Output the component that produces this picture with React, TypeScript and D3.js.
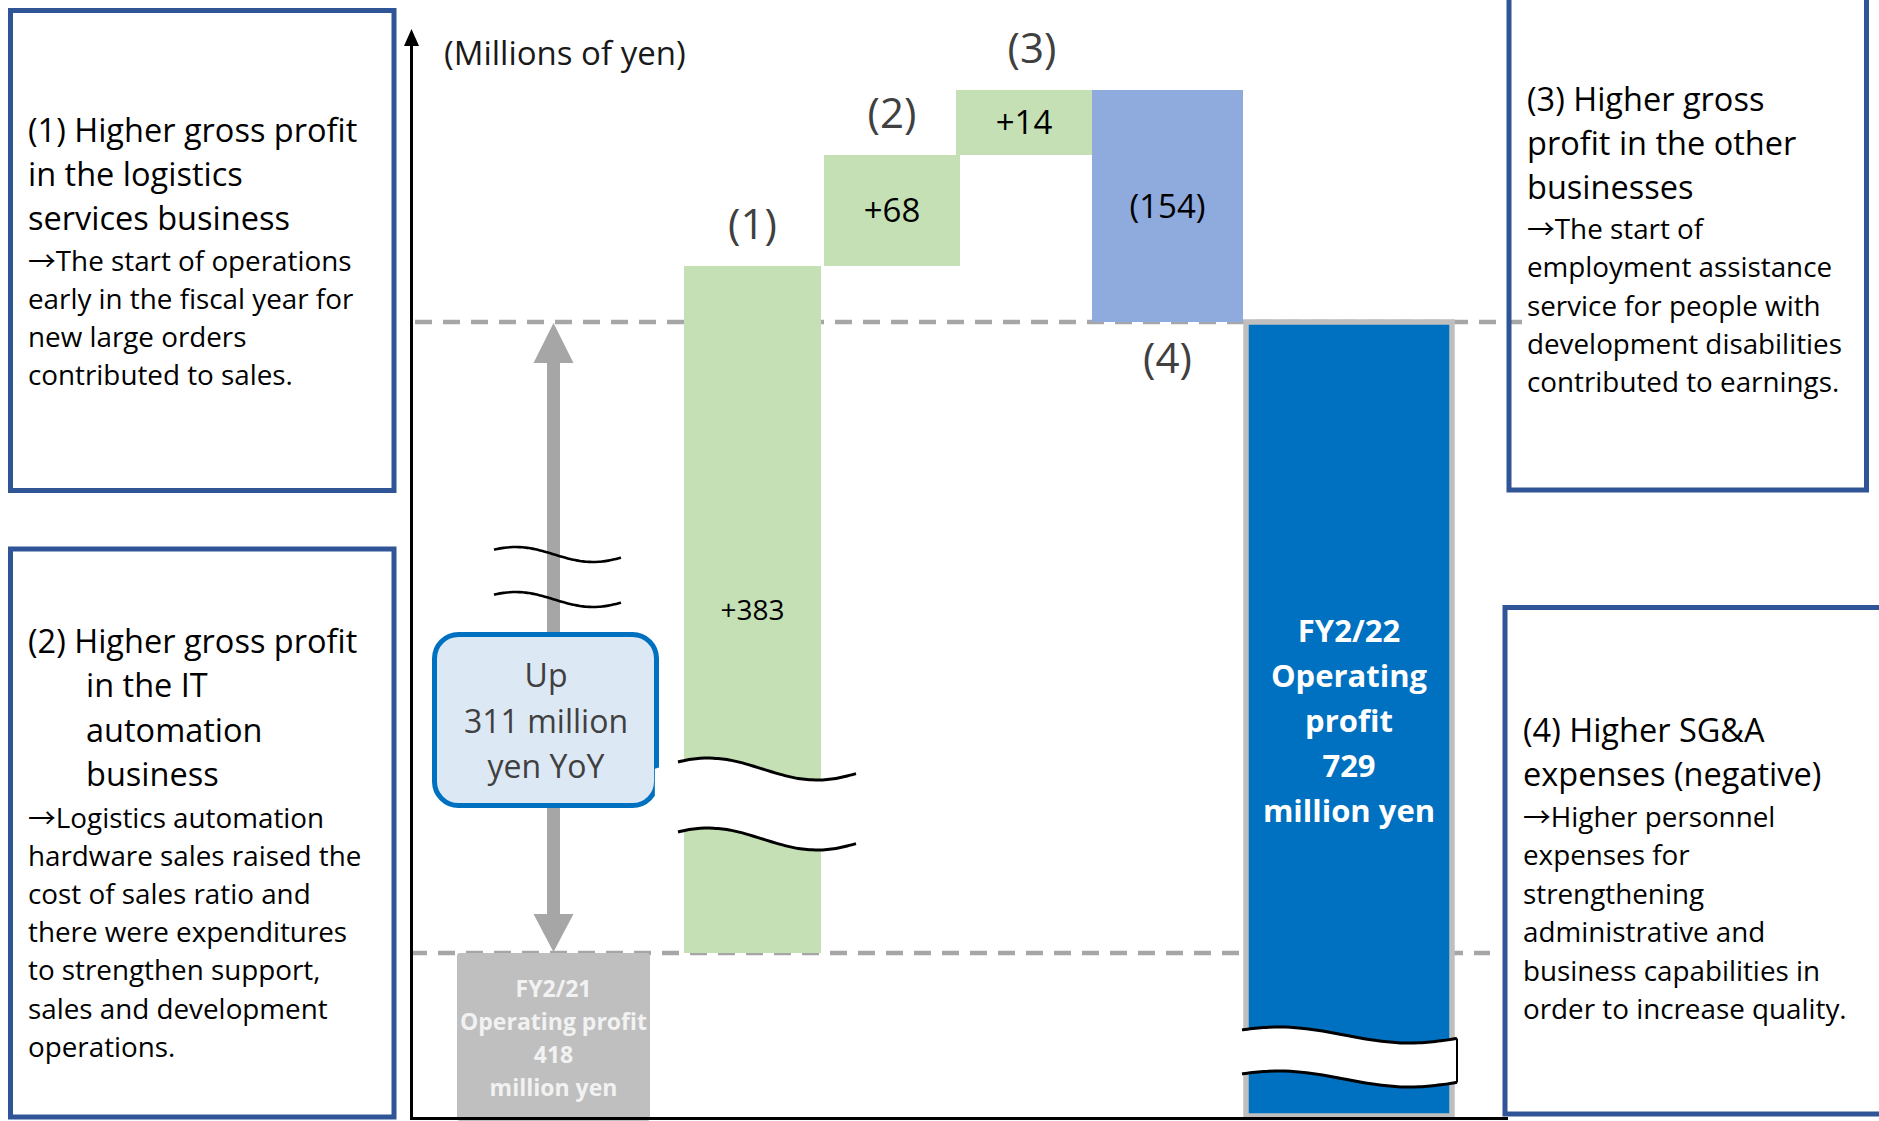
import React from "react";
import * as d3 from "d3";

// ---------------- data ----------------
const categories = ["FY2/21", "(1)", "(2)", "(3)", "(4)", "FY2/22"];
const values = [418, 383, 68, 14, -154, 729];
const isTotal = [true, false, false, false, false, true];
const deltaLabels = ["", "+383", "+68", "+14", "(154)", ""];
const startTotalLines = ["FY2/21", "Operating profit", "418", "million yen"];
const endTotalLines = ["FY2/22", "Operating", "profit", "729", "million yen"];
const yoyLines = ["Up", "311 million", "yen YoY"];
const unitLabel = "(Millions of yen)";

const box1Title = ["(1) Higher gross profit", "in the logistics", "services business"];
const box1Body = ["→The start of operations", "early in the fiscal year for", "new large orders", "contributed to sales."];
const box2Title = ["(2) Higher gross profit", "in the IT", "automation", "business"];
const box2Body = ["→Logistics automation", "hardware sales raised the", "cost of sales ratio and", "there were expenditures", "to strengthen support,", "sales and development", "operations."];
const box3Title = ["(3) Higher gross", "profit in the other", "businesses"];
const box3Body = ["→The start of", "employment assistance", "service for people with", "development disabilities", "contributed to earnings."];
const box4Title = ["(4) Higher SG&A", "expenses (negative)"];
const box4Body = ["→Higher personnel", "expenses for", "strengthening", "administrative and", "business capabilities in", "order to increase quality."];

// ---------------- layout / style ----------------
const W = 1879;
const H = 1121;
const FONT = "'Open Sans', 'Noto Sans', sans-serif";
const ARROW_FONT = "'Noto Sans CJK JP', 'DejaVu Sans', sans-serif";
const barCenters = [553.5, 752.5, 892, 1024, 1167.5, 1349];
const barWidths = [193, 137, 136, 136, 151, 206];
const yRangeBreaks = [1118, 953, 322, 266, 155, 90]; // broken axis range
const barFills = ["#bfbfbf", "#c5e0b4", "#c5e0b4", "#c5e0b4", "#8faadc", "#0070c0"];
const BOX_BLUE = "#2f5597";
const DASH_GREY = "#a6a6a6";

type Bar = { i: number; y0: number; y1: number };

function computeBars(): Bar[] {
  let run = 0;
  return values.map((v, i) => {
    if (isTotal[i]) {
      run = v;
      return { i, y0: 0, y1: v };
    }
    const b = { i, y0: run, y1: run + v };
    run += v;
    return b;
  });
}

function wavePts(x0: number, x1: number, yc: number, amp: number, tFrom = 0, tTo = 1) {
  const pts: [number, number][] = [];
  const n = 40;
  for (let k = 0; k <= n; k++) {
    const t = tFrom + ((tTo - tFrom) * k) / n;
    const x = x0 + t * (x1 - x0);
    const y = yc - amp * Math.cos((Math.PI * (t - 0.17)) / 0.61);
    pts.push([x, y]);
  }
  return pts;
}

const lineGen = d3.line<[number, number]>().curve(d3.curveBasis);

function Line(props: { s: string }) {
  const { s } = props;
  if (s.startsWith("→")) {
    return (
      <>
        <tspan fontFamily={ARROW_FONT}>→</tspan>
        <tspan>{s.slice(1)}</tspan>
      </>
    );
  }
  return <>{s}</>;
}

function TextBlock(props: {
  lines: string[];
  x: number;
  y0: number;
  step: number;
  size: number;
  indentX?: number;
}) {
  const { lines, x, y0, step, size, indentX } = props;
  return (
    <g>
      {lines.map((s, k) => (
        <text
          key={k}
          x={k > 0 && indentX !== undefined ? indentX : x}
          y={y0 + k * step}
          fontSize={size}
          fontFamily={FONT}
          fill="#000"
        >
          <Line s={s} />
        </text>
      ))}
    </g>
  );
}

export default function App() {
  const bars = computeBars();
  const levels = Array.from(new Set(bars.flatMap((b) => [b.y0, b.y1]))).sort((a, b) => a - b);
  const y = d3.scaleLinear().domain(levels).range(yRangeBreaks);
  const x = d3.scaleLinear().domain(categories.map((_, i) => i)).range(barCenters);

  const TITLE = 32.5;
  const BODY = 27.8;

  const startLevel = values[0];
  const endLevel = values[values.length - 1];
  const axisX = 411.5;
  const axisY = 1118.5;

  // grey YoY arrow
  const arrowX = x(0);
  const arrowTop = y(endLevel) + 1;
  const arrowBot = y(startLevel) - 1;

  // bar breaks
  const greenBreak = { x0: 678, x1: 856, ya: 769, yb: 839, amp: 11 };
  const finalBreak = { x0: 1242, x1: 1457, ya: 1035, yb: 1079, amp: 8 };
  const arrowBreak = { x0: 494, x1: 621, ya: 554.5, yb: 599.5, amp: 7.5 };

  const bandPath = (b: typeof greenBreak, tFrom: number) => {
    const top = wavePts(b.x0, b.x1, b.ya, b.amp, tFrom, 1);
    const bot = wavePts(b.x0, b.x1, b.yb, b.amp, tFrom, 1).reverse();
    return "M" + top.concat(bot).map((p) => p.join(",")).join("L") + "Z";
  };

  return (
    <svg
      width={W}
      height={H}
      viewBox={`0 0 ${W} ${H}`}
      style={{ position: "absolute", left: 0, top: 0, display: "block", background: "#fff" }}
    >
      <rect x={0} y={0} width={W} height={H} fill="#fff" />

      {/* reference dashed lines */}
      <line x1={415} x2={1522} y1={y(endLevel)} y2={y(endLevel)} stroke={DASH_GREY} strokeWidth={4.5} strokeDasharray="17 11" />
      <line x1={410} x2={1490} y1={y(startLevel)} y2={y(startLevel)} stroke={DASH_GREY} strokeWidth={4.5} strokeDasharray="17 11" />

      {/* grey YoY arrow */}
      <rect x={arrowX - 6.5} y={arrowTop + 38} width={13} height={arrowBot - arrowTop - 76} fill={DASH_GREY} />
      <polygon points={`${arrowX},${arrowTop} ${arrowX - 20},${arrowTop + 40} ${arrowX + 20},${arrowTop + 40}`} fill={DASH_GREY} />
      <polygon points={`${arrowX},${arrowBot} ${arrowX - 20},${arrowBot - 38} ${arrowX + 20},${arrowBot - 38}`} fill={DASH_GREY} />
      <path d={lineGen(wavePts(arrowBreak.x0, arrowBreak.x1, arrowBreak.ya, arrowBreak.amp)) || ""} fill="none" stroke="#000" strokeWidth={2.6} />
      <path d={lineGen(wavePts(arrowBreak.x0, arrowBreak.x1, arrowBreak.yb, arrowBreak.amp)) || ""} fill="none" stroke="#000" strokeWidth={2.6} />

      {/* callout */}
      <rect x={434.5} y={634.5} width={222} height={171} rx={24} fill="#dde8f5" stroke="#0070c0" strokeWidth={5} />
      {yoyLines.map((s, k) => (
        <text key={k} x={546} y={687 + k * 45.5} textAnchor="middle" fontSize={32} fontFamily={FONT} fill="#404040">
          {s}
        </text>
      ))}

      {/* bars */}
      {bars.map((b) => {
        const top = y(Math.max(b.y0, b.y1));
        const bot = b.y0 === 0 ? (b.i === 0 ? H : y(0) - 2) : y(Math.min(b.y0, b.y1));
        const last = b.i === bars.length - 1;
        return (
          <rect
            key={b.i}
            x={x(b.i) - barWidths[b.i] / 2}
            y={top}
            width={barWidths[b.i]}
            height={bot - top}
            fill={barFills[b.i]}
            rx={b.i === 0 ? 3 : 0}
            stroke={last ? "#bfbfbf" : "none"}
            strokeWidth={last ? 5.5 : 0}
          />
        );
      })}

      {/* break on bar (1) */}
      <path d={bandPath(greenBreak, -0.13)} fill="#fff" stroke="none" />
      <path d={lineGen(wavePts(greenBreak.x0, greenBreak.x1, greenBreak.ya, greenBreak.amp)) || ""} fill="none" stroke="#000" strokeWidth={3} />
      <path d={lineGen(wavePts(greenBreak.x0, greenBreak.x1, greenBreak.yb, greenBreak.amp)) || ""} fill="none" stroke="#000" strokeWidth={3} />

      {/* break on final bar */}
      <path d={bandPath(finalBreak, 0)} fill="#fff" stroke="none" />
      <path d={lineGen(wavePts(finalBreak.x0, finalBreak.x1, finalBreak.ya, finalBreak.amp)) || ""} fill="none" stroke="#000" strokeWidth={3} />
      <path d={lineGen(wavePts(finalBreak.x0, finalBreak.x1, finalBreak.yb, finalBreak.amp)) || ""} fill="none" stroke="#000" strokeWidth={3} />
      {(() => {
        const a = wavePts(finalBreak.x0, finalBreak.x1, finalBreak.ya, finalBreak.amp);
        const c = wavePts(finalBreak.x0, finalBreak.x1, finalBreak.yb, finalBreak.amp);
        const pa = a[a.length - 1];
        const pc = c[c.length - 1];
        return <line x1={pa[0]} x2={pc[0]} y1={pa[1]} y2={pc[1]} stroke="#000" strokeWidth={2} />;
      })()}

      {/* axes */}
      <line x1={axisX} x2={axisX} y1={1120} y2={44} stroke="#000" strokeWidth={3} />
      <polygon points={`${axisX},29 ${axisX - 7.5},46 ${axisX + 7.5},46`} fill="#000" />
      <line x1={410} x2={1508} y1={axisY} y2={axisY} stroke="#000" strokeWidth={3} />

      {/* unit label */}
      <text x={444} y={64.5} fontSize={33} fontFamily={FONT} fill="#1a1a1a">
        {unitLabel}
      </text>

      {/* category labels (1)-(4) */}
      {bars.map((b) => {
        if (isTotal[b.i]) return null;
        const neg = values[b.i] < 0;
        const lx = x(b.i) + (b.i === 3 ? 8 : 0);
        const ly = neg ? y(Math.min(b.y0, b.y1)) + 51 : y(Math.max(b.y0, b.y1)) - 27;
        return (
          <text key={b.i} x={lx} y={ly} textAnchor="middle" fontSize={42} fontFamily={FONT} fill="#404040">
            {categories[b.i]}
          </text>
        );
      })}

      {/* delta value labels */}
      {bars.map((b) => {
        if (!deltaLabels[b.i]) return null;
        const big = b.i === 1;
        const size = big ? 28 : 33;
        const mid = (y(b.y0) + y(b.y1)) / 2;
        return (
          <text key={b.i} x={x(b.i)} y={mid + size * 0.36} textAnchor="middle" fontSize={size} fontFamily={FONT} fill="#000">
            {deltaLabels[b.i]}
          </text>
        );
      })}

      {/* total bar texts */}
      {startTotalLines.map((s, k) => (
        <text key={k} x={x(0)} y={y(startLevel) + 44 + k * 33} textAnchor="middle" fontSize={23} fontWeight={700} fontFamily={FONT} fill="#f2f2f2">
          {s}
        </text>
      ))}
      {endTotalLines.map((s, k) => (
        <text key={k} x={x(5)} y={y(endLevel) + 320 + k * 45} textAnchor="middle" fontSize={31} fontWeight={700} fontFamily={FONT} fill="#fff">
          {s}
        </text>
      ))}

      {/* explanation boxes */}
      <rect x={10.5} y={10.5} width={383.5} height={480} fill="none" stroke={BOX_BLUE} strokeWidth={5} />
      <TextBlock lines={box1Title} x={28} y0={142} step={44} size={TITLE} />
      <TextBlock lines={box1Body} x={28} y0={271} step={38} size={BODY} />

      <rect x={10.5} y={549} width={383.5} height={568} fill="none" stroke={BOX_BLUE} strokeWidth={5} />
      <TextBlock lines={box2Title} x={28} y0={652.5} step={44.5} size={TITLE} indentX={86} />
      <TextBlock lines={box2Body} x={28} y0={828} step={38.1} size={BODY} />

      <rect x={1509} y={-10} width={357.5} height={500} fill="none" stroke={BOX_BLUE} strokeWidth={5} />
      <TextBlock lines={box3Title} x={1527} y0={111} step={44} size={TITLE} />
      <TextBlock lines={box3Body} x={1527} y0={239} step={38.3} size={BODY} />

      <rect x={1505} y={607.5} width={400} height={506.5} fill="none" stroke={BOX_BLUE} strokeWidth={5} />
      <TextBlock lines={box4Title} x={1523} y0={742} step={44} size={TITLE} />
      <TextBlock lines={box4Body} x={1523} y0={827} step={38.4} size={BODY} />
    </svg>
  );
}
